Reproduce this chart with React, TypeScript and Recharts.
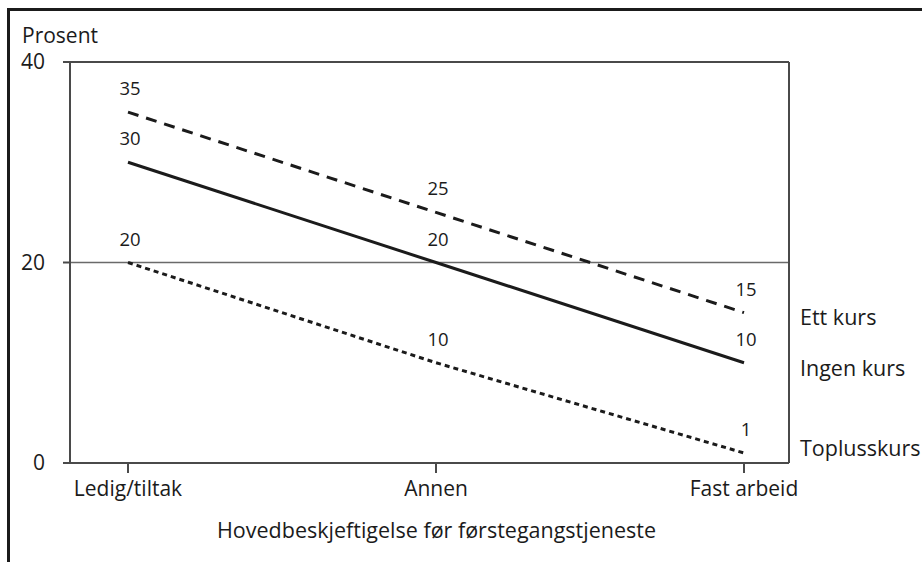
import React from "react";
import {
  LineChart,
  Line,
  XAxis,
  YAxis,
  CartesianGrid,
  ReferenceLine,
  LabelList,
} from "recharts";

const categories = ["Ledig/tiltak", "Annen", "Fast arbeid"];
const ettKurs = [35, 25, 15];
const ingenKurs = [30, 20, 10];
const toplusskurs = [20, 10, 1];
const yTicks = [0, 20, 40];

const seriesNames = ["Ett kurs", "Ingen kurs", "Toplusskurs"];
const xTitle = "Hovedbeskjeftigelse før førstegangstjeneste";
const yTitle = "Prosent";

const data = categories.map((c, i) => ({
  cat: c,
  ett: ettKurs[i],
  ingen: ingenKurs[i],
  topluss: toplusskurs[i],
}));

const FONT = "'Open Sans', 'Noto Sans', sans-serif";
const INK = "#1b1b1b";
const AXIS = "#4a4a4a";

const series = [
  { key: "ett", name: seriesNames[0], dash: "11 8", nameDy: 4 },
  { key: "ingen", name: seriesNames[1], dash: undefined, nameDy: 5 },
  { key: "topluss", name: seriesNames[2], dash: "5 4", nameDy: -5 },
];

const makeLabel = (name: string, nameDy: number) => (props: any) => {
  const { x, y, value, index } = props;
  return (
    <g>
      <text
        x={x + 2}
        y={y - 17}
        textAnchor="middle"
        fontFamily={FONT}
        fontSize={18.5}
        fill={INK}
      >
        {value}
      </text>
      {index === categories.length - 1 ? (
        <text
          x={x + 56}
          y={y + nameDy}
          dominantBaseline="central"
          textAnchor="start"
          fontFamily={FONT}
          fontSize={21.5}
          fill={INK}
        >
          {name}
        </text>
      ) : null}
    </g>
  );
};

export default function App() {
  return (
    <div
      style={{
        position: "absolute",
        left: 0,
        top: 0,
        width: 922,
        height: 562,
        background: "#fff",
        overflow: "hidden",
      }}
    >
      <div
        style={{
          position: "absolute",
          left: 7,
          top: 8,
          width: 922,
          height: 562,
          borderTop: `3px solid ${INK}`,
          borderLeft: `3px solid ${INK}`,
          boxSizing: "border-box",
        }}
      />
      <div style={{ position: "absolute", left: 0, top: 0 }}>
        <LineChart
          width={922}
          height={562}
          data={data}
          margin={{ top: 62, right: 123, bottom: 9, left: 10 }}
        >
          <CartesianGrid
            horizontal={true}
            vertical={false}
            stroke="#6a6a6a"
            strokeWidth={1.5}
            yAxisId="l"
          />
          <XAxis
            dataKey="cat"
            type="category"
            padding={{ left: 58, right: 45 }}
            height={90}
            tickSize={10}
            tickMargin={8}
            axisLine={{ stroke: AXIS, strokeWidth: 2 }}
            tickLine={{ stroke: AXIS, strokeWidth: 2 }}
            tick={{ fontFamily: FONT, fontSize: 21, fill: INK }}
            label={{
              value: xTitle,
              position: "insideBottom",
              offset: 15,
              dx: 7,
              fontFamily: FONT,
              fontSize: 21.5,
              fill: INK,
            }}
          />
          <YAxis
            yAxisId="l"
            domain={[0, 40]}
            ticks={yTicks}
            width={60}
            tickSize={7}
            tickMargin={18}
            axisLine={{ stroke: AXIS, strokeWidth: 2 }}
            tickLine={{ stroke: AXIS, strokeWidth: 2 }}
            tick={{ fontFamily: FONT, fontSize: 21, fill: INK }}
            label={{
              content: (p: any) => (
                <text
                  x={p.viewBox.x + 12}
                  y={p.viewBox.y - 19}
                  fontFamily={FONT}
                  fontSize={21}
                  fill={INK}
                >
                  {yTitle}
                </text>
              ),
            }}
          />
          <YAxis
            yAxisId="r"
            orientation="right"
            domain={[0, 40]}
            ticks={yTicks}
            width={10}
            tick={false}
            tickLine={false}
            axisLine={{ stroke: AXIS, strokeWidth: 2 }}
          />
          <ReferenceLine
            yAxisId="l"
            y={40}
            stroke={AXIS}
            strokeWidth={2}
          />
          {series.map((s) => (
            <Line
              key={s.key}
              yAxisId="l"
              dataKey={s.key}
              name={s.name}
              stroke={INK}
              strokeWidth={3}
              strokeDasharray={s.dash}
              dot={false}
              activeDot={false}
              isAnimationActive={false}
            >
              <LabelList dataKey={s.key} content={makeLabel(s.name, s.nameDy)} />
            </Line>
          ))}
        </LineChart>
      </div>
    </div>
  );
}
